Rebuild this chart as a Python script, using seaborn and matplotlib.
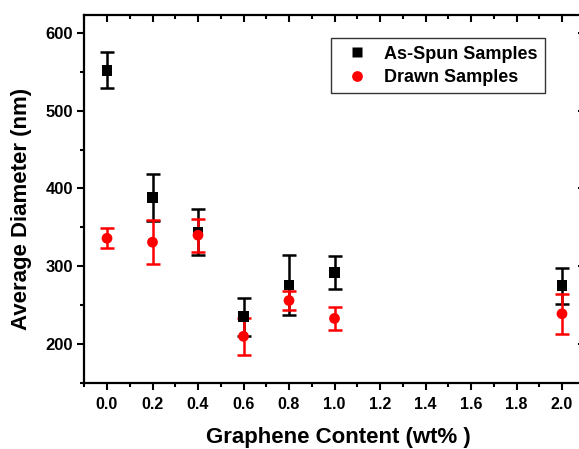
import matplotlib
matplotlib.use("Agg")
import matplotlib.pyplot as plt
from matplotlib.ticker import MultipleLocator
import seaborn as sns
import pandas as pd

content = [0.0, 0.2, 0.4, 0.6, 0.8, 1.0, 2.0]
spun_mean = [552, 388, 344, 235, 276, 292, 275]
spun_err = [23, 30, 30, 24, 38, 21, 23]
drawn_mean = [336, 331, 340, 210, 256, 233, 239]
drawn_err = [13, 28, 21, 24, 12, 15, 26]
series_names = ["As-Spun Samples", "Drawn Samples"]
x_ticks = [0.0, 0.2, 0.4, 0.6, 0.8, 1.0, 1.2, 1.4, 1.6, 1.8, 2.0]
x_tick_labels = ["0.0", "0.2", "0.4", "0.6", "0.8", "1.0", "1.2", "1.4", "1.6", "1.8", "2.0"]
y_ticks = [200, 300, 400, 500, 600]

sns.set_style("ticks")
plt.rcParams["font.family"] = ["Liberation Sans", "DejaVu Sans"]
plt.rcParams["font.weight"] = "bold"
for k in ["text.color", "axes.labelcolor", "xtick.color", "ytick.color", "axes.edgecolor"]:
    plt.rcParams[k] = "black"

df = pd.DataFrame({
    "x": content + content,
    "y": spun_mean + drawn_mean,
    "series": [series_names[0]] * len(content) + [series_names[1]] * len(content),
})

W, H = 579, 449
fig = plt.figure(figsize=(W / 100, H / 100), dpi=100)
left_px, right_px, top_px, bottom_px = 84.25, 584.75, 15, 383
pos = [left_px / W, 1 - bottom_px / H, (right_px - left_px) / W, (bottom_px - top_px) / H]
ax = fig.add_axes(pos)

ax.errorbar(content, spun_mean, yerr=spun_err, fmt="none", ecolor="black",
            elinewidth=1.8, capsize=5, capthick=1.8, zorder=2)
ax.errorbar(content, drawn_mean, yerr=drawn_err, fmt="none", ecolor="#ff0000",
            elinewidth=1.8, capsize=5, capthick=1.8, zorder=3)
sns.scatterplot(data=df, x="x", y="y", hue="series", style="series",
                palette={series_names[0]: "black", series_names[1]: "#ff0000"},
                markers={series_names[0]: "s", series_names[1]: "o"},
                s=60, edgecolor="none", ax=ax, zorder=4)

ax.set_xlim(-0.1, 2.1)
ax.set_ylim(150, 623)
ax.set_xticks(x_ticks)
ax.set_xticklabels(x_tick_labels)
ax.set_yticks(y_ticks)
ax.xaxis.set_minor_locator(MultipleLocator(0.1))
ax.yaxis.set_minor_locator(MultipleLocator(50))

for name, s in ax.spines.items():
    s.set_linewidth(1.6)
    s.set_color("black")
ax.spines["right"].set_visible(False)

ax.tick_params(which="major", axis="both", direction="out", length=5, width=1.5, pad=3)
ax.tick_params(which="minor", axis="both", direction="out", length=2.6, width=1.5)
ax.tick_params(axis="x", which="major", labelsize=11.5, pad=5)
ax.tick_params(axis="y", which="major", labelsize=12)

# overlay axes for mirrored inward ticks on top/right
ax2 = fig.add_axes(pos, frameon=False, sharex=ax, sharey=ax)
ax2.patch.set_visible(False)
ax2.tick_params(which="both", direction="in", width=1.5, left=False, bottom=False,
                labelleft=False, labelbottom=False, right=True, top=True)
ax2.tick_params(which="major", length=5)
ax2.tick_params(which="minor", length=2.6)

for lab in ax.get_xticklabels() + ax.get_yticklabels():
    lab.set_fontweight("bold")

ax.set_xlabel("Graphene Content (wt% )", fontsize=16, fontweight="bold")
ax.set_ylabel("Average Diameter (nm)", fontsize=16, fontweight="bold")
ax.xaxis.set_label_coords((338 - left_px) / (right_px - left_px), -(437 - bottom_px) / (bottom_px - top_px))
ax.yaxis.set_label_coords(-(left_px - 22) / (right_px - left_px), (bottom_px - 209) / (bottom_px - top_px))
ax.xaxis.label.set_va("center")
ax.yaxis.label.set_va("center")

leg = ax.legend(loc="upper right",
                bbox_to_anchor=((545 - left_px) / (right_px - left_px), (bottom_px - 38) / (bottom_px - top_px)),
                borderaxespad=0, frameon=True, fancybox=False, edgecolor="black",
                prop={"weight": "bold", "size": 13}, handletextpad=0.5,
                borderpad=0.42, labelspacing=0.35, markerscale=1.0, handlelength=2.0)
leg.get_frame().set_linewidth(1.0)
leg.set_title(None)
leg.set_zorder(10)

fig.savefig("out.png", dpi=100)
